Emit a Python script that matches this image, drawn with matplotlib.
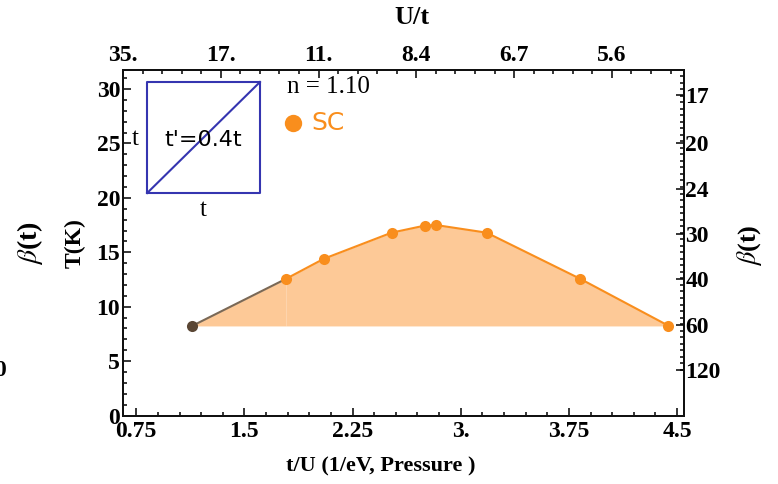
import numpy as np
import matplotlib
matplotlib.use("Agg")
import matplotlib.pyplot as plt
from matplotlib.ticker import FixedLocator, NullFormatter

plt.rcParams['mathtext.fontset'] = 'stix'

# Superconducting dome: critical temperature versus t/U
t_over_U = [1.137, 1.787, 2.05, 2.52, 2.75, 2.83, 3.18, 3.83, 4.44]
Tc_K = [8.23, 12.55, 14.4, 16.8, 17.45, 17.5, 16.8, 12.55, 8.25]

# Bottom axis ticks
x_ticks = [0.75, 1.5, 2.25, 3.0, 3.75, 4.5]
x_tick_labels = ["0.75", "1.5", "2.25", "3.", "3.75", "4.5"]

# Top axis (U/t) ticks
top_tick_labels = ["35.", "17.", "11.", "8.4", "6.7", "5.6"]
top_tick_start = 0.658
top_tick_step = 0.678

# Left axis ticks
y_ticks = [0, 5, 10, 15, 20, 25, 30]

# Right axis: inverse temperature beta(t)
beta_ticks = [17, 20, 24, 30, 40, 60, 120]
beta_to_K = 500.0

XLIM = (0.658, 4.548)
YLIM = (0.0, 31.75)

ORANGE = "#F98E1D"
FILL = "#FDC997"
BROWN = "#5A4634"
GREYLINE = "#7A6855"
BLUE = "#3535B0"

serif = "Liberation Serif"
sans = "DejaVu Sans"
TICK_FS = 17

fig = plt.figure(figsize=(7.78, 4.84), dpi=100)
ax = fig.add_axes([123 / 778, 1 - 415.5 / 484, (684 - 123) / 778, (415.5 - 70) / 484])
ax.set_xlim(*XLIM)
ax.set_ylim(*YLIM)

# shaded dome
base = min(Tc_K)
ax.fill_between(t_over_U[:2], base, Tc_K[:2], color=FILL, lw=0, zorder=1)
ax.fill_between(t_over_U[1:], base, Tc_K[1:], color=FILL, lw=0, zorder=1)

# boundary lines
ax.plot(t_over_U[:2], Tc_K[:2], color=GREYLINE, lw=1.5, zorder=2)
ax.plot(t_over_U[1:], Tc_K[1:], color=ORANGE, lw=1.5, zorder=2)
ax.plot(t_over_U[1:], Tc_K[1:], 'o', color=ORANGE, ms=8, mec='none', zorder=3)
ax.plot(t_over_U[:1], Tc_K[:1], 'o', color=BROWN, ms=8, mec='none', zorder=3)

# lattice schematic
sq_x0, sq_x1 = 0.826, 1.608
sq_y0, sq_y1 = 20.45, 30.65
ax.plot([sq_x0, sq_x1, sq_x1, sq_x0, sq_x0], [sq_y0, sq_y0, sq_y1, sq_y1, sq_y0],
        color=BLUE, lw=1.5, zorder=4)
ax.plot([sq_x0, sq_x1], [sq_y0, sq_y1], color=BLUE, lw=1.5, zorder=4)
ax.text(1.213, 25.3, "t'=0.4t", family=sans, fontsize=16, ha='center', va='center', zorder=5)
ax.text(0.743, 25.4, "t", family=serif, fontsize=18, ha='center', va='center', zorder=5)
ax.text(1.213, 18.9, "t", family=serif, fontsize=18, ha='center', va='center', zorder=5)

ax.text(2.08, 30.2, "n = 1.10", family=serif, fontsize=18, ha='center', va='center')
ax.plot([1.836], [26.9], 'o', color=ORANGE, ms=12.5, mec='none')
ax.text(1.967, 26.9, "SC", family=sans, fontsize=18, color=ORANGE, ha='left', va='center')

# axes styling
for sp in ax.spines.values():
    sp.set_linewidth(1.3)
    sp.set_color("#111111")

ax.xaxis.set_major_locator(FixedLocator(x_ticks))
ax.set_xticklabels(x_tick_labels)
ax.xaxis.set_minor_locator(FixedLocator(np.arange(0.75, 4.55, 0.15)))
ax.yaxis.set_major_locator(FixedLocator(y_ticks))
ax.yaxis.set_minor_locator(FixedLocator(np.arange(0, 31.5, 1.0)))
ax.tick_params(which='both', direction='in', top=False, right=False, width=1.1)
ax.tick_params(which='major', length=6)
ax.tick_params(which='minor', length=3)
ax.tick_params(axis='x', pad=4)
ax.tick_params(axis='y', pad=2)
for lab in ax.get_xticklabels() + ax.get_yticklabels():
    lab.set_family(serif)
    lab.set_fontweight('bold')
    lab.set_fontsize(TICK_FS)

# top U/t axis
axt = ax.twiny()
axt.set_xlim(*XLIM)
top_pos = [top_tick_start + k * top_tick_step for k in range(len(top_tick_labels))]
axt.xaxis.set_major_locator(FixedLocator(top_pos))
axt.set_xticklabels(top_tick_labels)
axt.xaxis.set_minor_locator(FixedLocator(np.arange(top_tick_start, 4.55, top_tick_step / 5)))
axt.tick_params(which='both', direction='in', width=1.1, pad=3)
axt.tick_params(which='major', length=6)
axt.tick_params(which='minor', length=3)
for lab in axt.get_xticklabels():
    lab.set_family(serif)
    lab.set_fontweight('bold')
    lab.set_fontsize(TICK_FS)

# right beta axis
axr = ax.twinx()
axr.set_ylim(*YLIM)
axr.yaxis.set_major_locator(FixedLocator([beta_to_K / b for b in beta_ticks]))
axr.set_yticklabels([str(b) for b in beta_ticks])
axr.yaxis.set_minor_locator(FixedLocator(np.arange(4.2, 31.5, 0.6)))
axr.yaxis.set_minor_formatter(NullFormatter())
axr.tick_params(which='both', direction='in', width=1.1, pad=1)
axr.tick_params(which='major', length=6)
axr.tick_params(which='minor', length=3)
for lab in axr.get_yticklabels():
    lab.set_family(serif)
    lab.set_fontweight('bold')
    lab.set_fontsize(TICK_FS)
for a in (axt, axr):
    for sp in a.spines.values():
        sp.set_linewidth(1.3)
        sp.set_color("#111111")

# axis titles
fig.text(381 / 778, 1 - 466 / 484, "t/U (1/eV, Pressure )", family=serif, fontweight='bold',
         fontsize=16, ha='center', va='center')
fig.text(412 / 778, 1 - 18 / 484, "U/t", family=serif, fontweight='bold',
         fontsize=19, ha='center', va='center')
fig.text(75 / 778, 1 - 243 / 484, "T(K)", family=serif, fontweight='bold',
         fontsize=17, ha='center', va='center', rotation=90)
fig.text(30 / 778, 1 - 243 / 484, r"$\beta$(t)", family=serif, fontweight='bold',
         fontsize=20, ha='center', va='center', rotation=90)
fig.text(750 / 778, 1 - 245 / 484, r"$\beta$(t)", family=serif, fontweight='bold',
         fontsize=19, ha='center', va='center', rotation=90)
fig.text(6 / 778, 1 - 371 / 484, "0", family=serif, fontweight='bold',
         fontsize=17, ha='right', va='center')

fig.savefig("out.png", dpi=100)
